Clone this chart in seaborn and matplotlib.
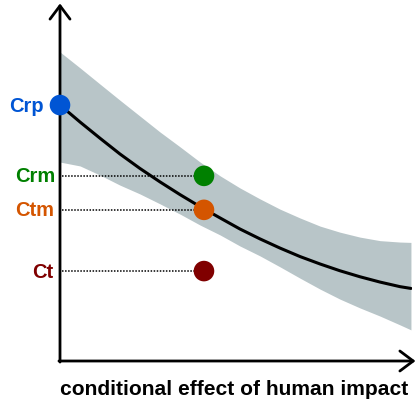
import numpy as np
import pandas as pd
import matplotlib
matplotlib.use("Agg")
import matplotlib.pyplot as plt
import seaborn as sns

# ---- data (arbitrary units) ----
grid_x = [0.00, 0.57, 1.14, 1.70, 2.27, 2.84, 3.41, 3.98, 4.55, 5.11,
          5.68, 6.25, 6.82, 7.39, 7.95, 8.52, 9.09, 9.66, 9.97]
curve_y = [7.23, 6.75, 6.29, 5.85, 5.44, 5.06, 4.70, 4.36, 4.04, 3.73,
           3.45, 3.19, 2.95, 2.74, 2.55, 2.38, 2.23, 2.10, 2.05]
band_upper = [8.73, 8.28, 7.82, 7.37, 6.92, 6.47, 6.05, 5.62, 5.23, 4.89,
              4.58, 4.29, 4.04, 3.81, 3.64, 3.50, 3.40, 3.36, 3.35]
band_lower = [5.62, 5.51, 5.25, 4.97, 4.72, 4.44, 4.15, 3.84, 3.56, 3.25,
              2.97, 2.66, 2.34, 2.03, 1.75, 1.50, 1.27, 1.02, 0.88]

point_labels = ["Crp", "Crm", "Ctm", "Ct"]
point_x = [0.00, 4.09, 4.09, 4.09]
point_y = [7.23, 5.23, 4.27, 2.54]
point_colors = ["#0055d4", "#008000", "#d45500", "#800000"]

x_label = "conditional effect of human impact"

# ---- style ----
sns.set_theme(style="white")
plt.rcParams["font.family"] = ["Liberation Sans", "DejaVu Sans"]
plt.rcParams["text.color"] = "black"

fig = plt.figure(figsize=(4.18, 4.02), dpi=100)
ax = fig.add_axes([60 / 418, 40 / 402, 352 / 418, 354 / 402])
ax.set_xlim(0, 10)
ax.set_ylim(0, 10)
for s in ax.spines.values():
    s.set_visible(False)
ax.set_xticks([])
ax.set_yticks([])

# band
ax.fill_between(grid_x, band_lower, band_upper, color="#b8c5c8", linewidth=0, zorder=1)

# curve
df_curve = pd.DataFrame({"x": grid_x, "y": curve_y})
sns.lineplot(data=df_curve, x="x", y="y", ax=ax, color="black", linewidth=2.2,
             sort=False, zorder=3)

# dotted guide lines
for lab, px, py in zip(point_labels, point_x, point_y):
    if px > 0:
        ax.plot([0.06, px - 0.25], [py, py], color="black", linestyle=(0, (1, 1)),
                linewidth=1.1, zorder=2)

# points
df_pts = pd.DataFrame({"label": point_labels, "x": point_x, "y": point_y})
sns.scatterplot(data=df_pts, x="x", y="y", hue="label", palette=point_colors,
                hue_order=point_labels, s=220, linewidth=0, ax=ax, legend=False,
                zorder=5, clip_on=False)

# labels
offsets = {"Crp": -0.45, "Crm": -0.14, "Ctm": -0.17, "Ct": -0.2}
for lab, py, c in zip(point_labels, point_y, point_colors):
    ax.text(offsets[lab], py, lab, color=c, fontsize=14.5, fontweight="bold",
            ha="right", va="center", clip_on=False)

# axes arrows
arrow_kw = dict(arrowstyle="->,head_length=0.6,head_width=0.45", color="black",
                lw=2.0, mutation_scale=16, shrinkA=0, shrinkB=0)
ax.annotate("", xy=(0, 10.1), xytext=(0, -0.03), arrowprops=arrow_kw,
            annotation_clip=False)
ax.annotate("", xy=(10.1, 0), xytext=(-0.03, 0), arrowprops=arrow_kw,
            annotation_clip=False)

ax.set_xlabel("")
ax.set_ylabel("")
fig.text(234 / 418, 1 - 390 / 402, x_label, fontsize=15.1, fontweight="bold",
         color="black", ha="center", va="center")

fig.savefig("out.png", dpi=100)
